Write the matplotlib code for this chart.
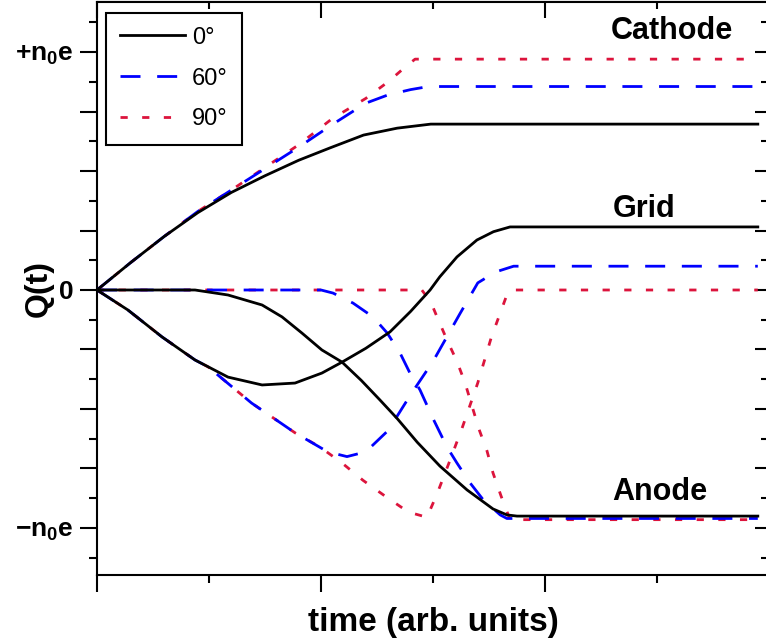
import matplotlib
matplotlib.use("Agg")
import matplotlib.pyplot as plt
from matplotlib.ticker import MultipleLocator

plt.rcParams['font.family'] = ['Liberation Sans', 'DejaVu Sans']
plt.rcParams['mathtext.fontset'] = 'custom'
plt.rcParams['mathtext.rm'] = 'Liberation Sans'
plt.rcParams['mathtext.bf'] = 'Liberation Sans:bold'
plt.rcParams['mathtext.it'] = 'Liberation Sans:italic'

# --- data (time in arb. units, Q in units of n0e) ---
# Cathode
cath0_t = [0, 0.15, 0.3, 0.45, 0.6, 0.75, 0.9, 1.04, 1.19, 1.34, 1.49, 2.95]
cath0_q = [0, 0.115, 0.225, 0.325, 0.41, 0.48, 0.545, 0.597, 0.651, 0.68, 0.697, 0.697]
cath60_t = [0, 0.15, 0.3, 0.45, 0.6, 0.75, 0.9, 1.05, 1.2, 1.3, 1.4, 1.48, 2.95]
cath60_q = [0, 0.115, 0.225, 0.33, 0.42, 0.51, 0.6, 0.695, 0.785, 0.82, 0.842, 0.855, 0.855]
cath90_t = [0, 0.15, 0.3, 0.45, 0.6, 0.75, 0.9, 1.05, 1.2, 1.3, 1.38, 1.42, 2.95]
cath90_q = [0, 0.115, 0.225, 0.33, 0.42, 0.515, 0.61, 0.72, 0.805, 0.875, 0.94, 0.97, 0.97]

# Grid
grid0_t = [0, 0.138, 0.29, 0.4375, 0.585, 0.737, 0.884, 1.004, 1.094, 1.2, 1.308, 1.4,
           1.487, 1.53, 1.607, 1.696, 1.77, 1.844, 2.95]
grid0_q = [0, -0.084, -0.197, -0.294, -0.366, -0.399, -0.391, -0.349, -0.303, -0.245,
           -0.176, -0.09, 0, 0.055, 0.139, 0.21, 0.245, 0.265, 0.265]
grid60_t = [0, 0.138, 0.29, 0.4375, 0.496, 0.69, 0.884, 1.03, 1.116, 1.2, 1.3, 1.4, 1.5,
            1.62, 1.7, 1.78, 1.86, 2.95]
grid60_q = [0, -0.084, -0.197, -0.294, -0.323, -0.475, -0.60, -0.68, -0.70, -0.68, -0.59,
            -0.44, -0.30, -0.10, 0.03, 0.076, 0.10, 0.10]
grid90_t = [0, 0.138, 0.29, 0.4375, 0.496, 0.69, 0.884, 0.996, 1.094, 1.188, 1.286, 1.39,
            1.473, 1.518, 1.57, 1.63, 1.7, 1.76, 1.83, 1.85, 2.95]
grid90_q = [0, -0.084, -0.197, -0.294, -0.323, -0.475, -0.60, -0.66, -0.727, -0.80, -0.866,
            -0.933, -0.955, -0.857, -0.73, -0.58, -0.39, -0.20, -0.02, 0, 0]

# Anode
anode0_t = [0, 0.4375, 0.585, 0.737, 0.826, 0.915, 1.004, 1.094, 1.18, 1.263, 1.34, 1.43,
            1.531, 1.652, 1.768, 1.83, 1.875, 2.95]
anode0_q = [0, 0, -0.021, -0.063, -0.113, -0.181, -0.252, -0.303, -0.38, -0.462, -0.54,
            -0.64, -0.74, -0.84, -0.92, -0.945, -0.95, -0.95]
anode60_t = [0, 1.0, 1.054, 1.143, 1.232, 1.295, 1.353, 1.397, 1.442, 1.5, 1.5625, 1.607,
             1.665, 1.723, 1.8, 1.83, 2.95]
anode60_q = [0, 0, -0.013, -0.055, -0.113, -0.18, -0.265, -0.349, -0.42, -0.54, -0.66,
             -0.727, -0.81, -0.88, -0.945, -0.96, -0.96]
anode90_t = [0, 1.45, 1.49, 1.518, 1.5625, 1.607, 1.643, 1.674, 1.705, 1.741, 1.768,
             1.804, 1.844, 2.95]
anode90_q = [0, 0, -0.05, -0.113, -0.21, -0.30, -0.39, -0.487, -0.584, -0.676, -0.769,
             -0.866, -0.965, -0.965]

angle_labels = ['0°', '60°', '90°']
electrode_names = ['Cathode', 'Grid', 'Anode']
ytick_labels = {-1.0: r'$\mathbf{-n_0e}$', 0.0: '0', 1.0: r'$\mathbf{+n_0e}$'}

# styles
lw = 2.0
blk = dict(color='black', linestyle='-', linewidth=lw, zorder=4)
blu = dict(color='#0000ff', linestyle=(0, (7.2, 6.0)), linewidth=lw, zorder=3)
red = dict(color='#dc143c', linestyle=(0, (2.6, 5.2)), linewidth=lw, zorder=2)

fig = plt.figure(figsize=(7.66, 6.42), dpi=100)
ax = fig.add_axes([97 / 766, 67 / 642, 672 / 766, 573.5 / 642])

ax.plot(cath90_t, cath90_q, **red)
ax.plot(grid90_t, grid90_q, **red)
l90, = ax.plot(anode90_t, anode90_q, **red)
ax.plot(cath60_t, cath60_q, **blu)
ax.plot(grid60_t, grid60_q, **blu)
l60, = ax.plot(anode60_t, anode60_q, **blu)
ax.plot(cath0_t, cath0_q, **blk)
ax.plot(grid0_t, grid0_q, **blk)
l0, = ax.plot(anode0_t, anode0_q, **blk)

ax.set_xlim(0, 3.0)
ax.set_ylim(-1.1975, 1.2122)

# ticks: out on left/bottom, in on top/right
ax.xaxis.set_major_locator(MultipleLocator(1.0))
ax.xaxis.set_minor_locator(MultipleLocator(0.5))
ax.set_xticklabels([])
yt = [-1.0, -0.75, -0.5, -0.25, 0.0, 0.25, 0.5, 0.75, 1.0]
ax.set_yticks(yt, labels=[ytick_labels.get(v, '') for v in yt])
ax.yaxis.set_minor_locator(MultipleLocator(0.125))
ax.tick_params(which='major', direction='out', length=12, width=1.5, pad=5,
               labelsize=19)
ax.tick_params(which='minor', direction='out', length=6, width=1.5)
for lab in ax.get_yticklabels():
    lab.set_fontweight('bold')

sx = ax.secondary_xaxis('top')
sx.xaxis.set_major_locator(MultipleLocator(1.0))
sx.xaxis.set_minor_locator(MultipleLocator(0.5))
sx.tick_params(which='major', direction='in', length=12, width=1.5, labeltop=False)
sx.tick_params(which='minor', direction='in', length=6, width=1.5)
sy = ax.secondary_yaxis('right')
sy.set_yticks(yt)
sy.yaxis.set_minor_locator(MultipleLocator(0.125))
sy.tick_params(which='major', direction='in', length=10, width=1.5, labelright=False)
sy.tick_params(which='minor', direction='in', length=6, width=1.5)

for sp in ax.spines.values():
    sp.set_linewidth(1.5)

ax.set_xlabel('time (arb. units)', fontsize=24, fontweight='bold', labelpad=6)
ax.set_ylabel('Q(t)', fontsize=23, fontweight='bold')
ax.yaxis.set_label_coords(-0.064, 0.5)

# electrode labels
ax.text(2.565, 1.0546, electrode_names[0], fontsize=22, fontweight='bold', ha='center', va='baseline')
ax.text(2.442, 0.3067, electrode_names[1], fontsize=22, fontweight='bold', ha='center', va='baseline')
ax.text(2.513, -0.882, electrode_names[2], fontsize=22, fontweight='bold', ha='center', va='baseline')

leg = ax.legend([l0, l60, l90], angle_labels, loc='upper left',
                bbox_to_anchor=(9 / 672, 1 - 11 / 573.5), borderaxespad=0,
                fontsize=17, handlelength=2.75, handletextpad=0.3, labelspacing=0.8,
                borderpad=0.6, fancybox=False, framealpha=1, edgecolor='black')
leg.get_frame().set_linewidth(1.5)

fig.savefig('out.png', dpi=100)
